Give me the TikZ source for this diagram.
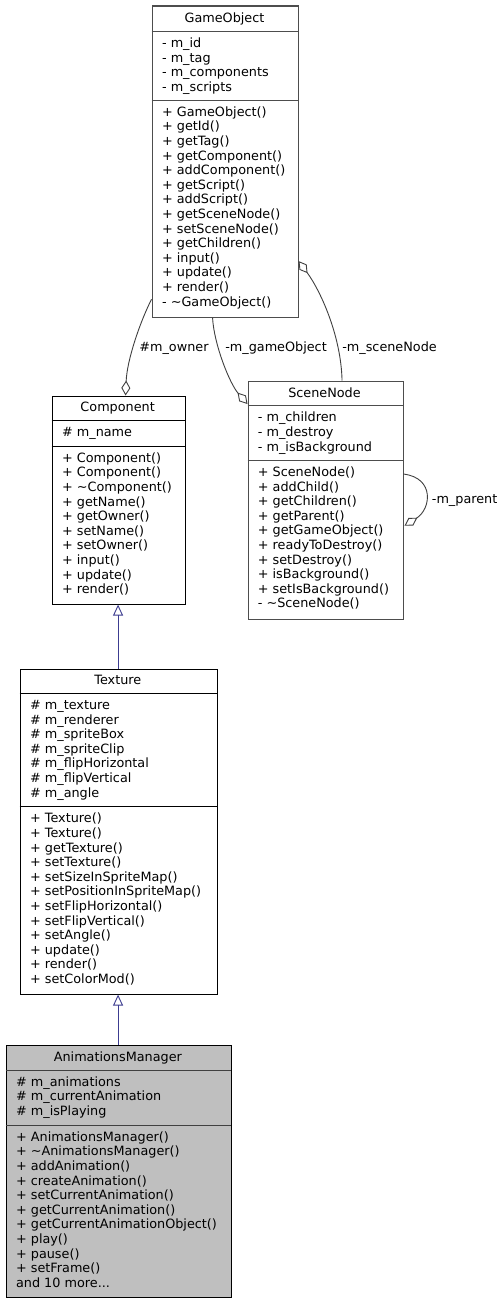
\documentclass[tikz,border=0pt]{standalone}
\usepackage{fontspec}
\setmainfont{DejaVu Sans}
\usetikzlibrary{arrows.meta}
\definecolor{edgegray}{HTML}{404040}
\definecolor{inhblue}{HTML}{3C3C90}
\definecolor{boxgray}{HTML}{BFBFBF}
\definecolor{bordgray}{HTML}{4D4D4D}
\newcommand\fl{\rule{0pt}{11pt}}
\tikzset{
  umlbox/.style={draw, line width=1.1pt, fill=white, inner sep=0pt, anchor=north west},
  ttl/.style={font=\fontsize{12.8}{14.6}\selectfont, inner sep=0pt, anchor=base},
  sec/.style={font=\fontsize{12.8}{14.6}\selectfont, inner sep=0pt, anchor=north west, align=left},
  sepline/.style={line width=1.1pt},
  agg/.style={draw=edgegray, line width=0.9pt, -{Diamond[open, length=15pt, width=9pt]}},
  inh/.style={draw=inhblue, line width=0.9pt, -{Triangle[open, length=11pt, width=10pt]}},
  lbl/.style={font=\fontsize{12.8}{14.6}\selectfont, inner sep=0pt, anchor=base west},
}
\begin{document}
\begin{tikzpicture}[x=1pt,y=-1pt]
\fill[white] (0,0) rectangle (503,1303);
\useasboundingbox (0,0) rectangle (503,1303);

% GameObject
\node[umlbox, draw=bordgray, minimum width=146pt, minimum height=311pt] (go) at (151.5,5.5) {};
\draw[sepline, bordgray] (151.5,31.5) -- (297.5,31.5);
\draw[sepline, bordgray] (151.5,100.5) -- (297.5,100.5);
\node[ttl] (go-t) at (224.5,22.3) {GameObject};
\node[sec] (go-a) at (161.9,36.3) {\fl- m\_id\\- m\_tag\\- m\_components\\- m\_scripts};
\node[sec] (go-m) at (161.9,105) {\fl+ GameObject()\\+ getId()\\+ getTag()\\+ getComponent()\\+ addComponent()\\+ getScript()\\+ addScript()\\+ getSceneNode()\\+ setSceneNode()\\+ getChildren()\\+ input()\\+ update()\\+ render()\\- \textasciitilde GameObject()};

% Component
\node[umlbox, minimum width=133pt, minimum height=208pt] (comp) at (51.5,395.5) {};
\draw[sepline] (51.5,420.5) -- (184.5,420.5);
\draw[sepline] (51.5,446.5) -- (184.5,446.5);
\node[ttl] (comp-t) at (117.65,411.5) {Component};
\node[sec] (comp-a) at (61.9,425.7) {\fl\# m\_name};
\node[sec] (comp-m) at (61.9,451) {\fl+ Component()\\+ Component()\\+ \textasciitilde Component()\\+ getName()\\+ getOwner()\\+ setName()\\+ setOwner()\\+ input()\\+ update()\\+ render()};

% SceneNode
\node[umlbox, draw=bordgray, minimum width=155pt, minimum height=238pt] (sn) at (247.5,380.5) {};
\draw[sepline, bordgray] (247.5,405.5) -- (402.5,405.5);
\draw[sepline, bordgray] (247.5,460.5) -- (402.5,460.5);
\node[ttl] (sn-t) at (324.5,397.2) {SceneNode};
\node[sec] (sn-a) at (257.7,410.7) {\fl- m\_children\\- m\_destroy\\- m\_isBackground};
\node[sec] (sn-m) at (257.7,465.3) {\fl+ SceneNode()\\+ addChild()\\+ getChildren()\\+ getParent()\\+ getGameObject()\\+ readyToDestroy()\\+ setDestroy()\\+ isBackground()\\+ setIsBackground()\\- \textasciitilde SceneNode()};

% Texture
\node[umlbox, minimum width=197pt, minimum height=325pt] (tex) at (19.5,668.5) {};
\draw[sepline] (19.5,693.5) -- (216.5,693.5);
\draw[sepline] (19.5,806.5) -- (216.5,806.5);
\node[ttl] (tex-t) at (117.85,684.8) {Texture};
\node[sec] (tex-a) at (29.9,698.3) {\fl\# m\_texture\\\# m\_renderer\\\# m\_spriteBox\\\# m\_spriteClip\\\# m\_flipHorizontal\\\# m\_flipVertical\\\# m\_angle};
\node[sec] (tex-m) at (29.9,811.7) {\fl+ Texture()\\+ Texture()\\+ getTexture()\\+ setTexture()\\+ setSizeInSpriteMap()\\+ setPositionInSpriteMap()\\+ setFlipHorizontal()\\+ setFlipVertical()\\+ setAngle()\\+ update()\\+ render()\\+ setColorMod()};

% AnimationsManager
\node[umlbox, fill=boxgray, minimum width=225pt, minimum height=252pt] (am) at (5.5,1044.5) {};
\draw[sepline, edgegray, line width=1.6pt] (5.5,1070.5) -- (230.5,1070.5);
\draw[sepline, edgegray, line width=1.4pt] (5.5,1125.5) -- (230.5,1125.5);
\node[ttl] (am-t) at (117.85,1061) {AnimationsManager};
\node[sec] (am-a) at (15.9,1075) {\fl\# m\_animations\\\# m\_currentAnimation\\\# m\_isPlaying};
\node[sec] (am-m) at (15.9,1130) {\fl+ AnimationsManager()\\+ \textasciitilde AnimationsManager()\\+ addAnimation()\\+ createAnimation()\\+ setCurrentAnimation()\\+ getCurrentAnimation()\\+ getCurrentAnimationObject()\\+ play()\\+ pause()\\+ setFrame()\\and 10 more...};

% aggregation edges
\draw[agg] ([yshift=18.3pt]go.south west) .. controls (140,322) and (127,360) .. ([xshift=7pt]comp.north);
\draw[agg] ([xshift=-12.5pt]go.south) .. controls (214,345) and (230,384) .. ([yshift=-23.5pt]sn.north west);
\draw[agg] ([xshift=16.5pt]sn.north) .. controls (341,335) and (320,290) .. ([yshift=56.5pt]go.south east);
\draw[agg] ([yshift=26pt]sn.east) .. controls (435,478) and (431,509) .. ([xshift=1pt,yshift=-25.7pt]sn.east);

% inheritance edges
\draw[inh] ([xshift=-0.5pt]tex.north) -- ([xshift=-0.5pt]comp.south);
\draw[inh] ([xshift=-0.5pt]am.north) -- ([xshift=-0.5pt]tex.south);

% labels
\node[lbl] (l-owner) at (139.2,351.8) {\#m\_owner};
\node[lbl] (l-gameobj) at (225.1,351.8) {-m\_gameObject};
\node[lbl] (l-scenenode) at (342.1,351.8) {-m\_sceneNode};
\node[lbl] (l-parent) at (431.7,503) {-m\_parent};
\end{tikzpicture}
\end{document}
